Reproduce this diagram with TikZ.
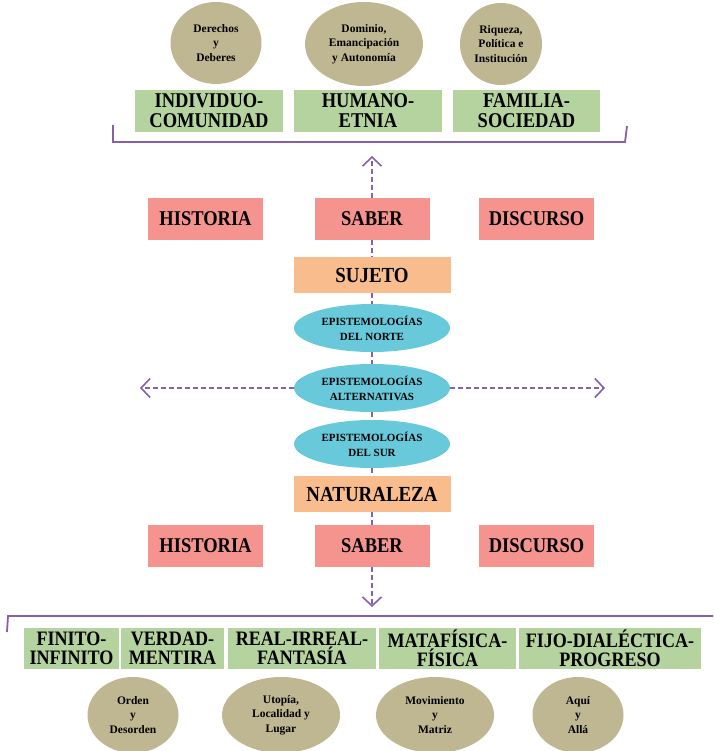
\documentclass[tikz,border=0pt]{standalone}
\usepackage{fontspec}
\setmainfont{Liberation Serif}
\newfontfamily\angosta[FakeStretch=0.88]{Liberation Serif}
\usetikzlibrary{shapes, arrows.meta, positioning}
\definecolor{verde}{RGB}{180,211,158}
\definecolor{rosa}{RGB}{245,148,143}
\definecolor{naranja}{RGB}{249,188,141}
\definecolor{celeste}{RGB}{104,201,219}
\definecolor{cafe}{RGB}{190,183,146}
\definecolor{morado}{RGB}{134,96,170}

\begin{document}
\begin{tikzpicture}[x=1pt, y=-1pt]
\useasboundingbox (0,0) rectangle (713,751);

% ovalos de arriba y de abajo
\begin{scope}[every node/.style={shape=ellipse, fill=cafe, inner sep=0pt,
    align=center, font=\bfseries\fontsize{11.5}{14.5}\selectfont}]
    \node[minimum width=91pt, minimum height=82pt] (a) at (216,43) {Derechos\\y\\Deberes};
    \node[minimum width=118pt, minimum height=84pt] (b) at (364,44) {Dominio,\\Emancipación\\y Autonomía};
    \node[minimum width=82pt, minimum height=82pt] (c) at (501,44) {Riqueza,\\Política e\\Institución};
    \node[minimum width=91pt, minimum height=76pt] (w) at (133,715) {Orden\\y\\Desorden};
    \node[minimum width=118pt, minimum height=76pt] (x) at (281,715) {Utopía,\\Localidad y\\Lugar};
    \node[minimum width=118pt, minimum height=76pt] (y) at (435,715) {Movimiento\\y\\Matriz};
    \node[minimum width=91pt, minimum height=76pt] (z) at (578,715) {Aquí\\y\\Allá};
\end{scope}

% cajas verdes
\begin{scope}[every node/.style={shape=rectangle, fill=verde, inner sep=0pt,
    align=center, minimum height=42pt, font=\angosta\bfseries\fontsize{21}{20}\selectfont}]
    \node[minimum width=148pt] (d) at (209,111) {INDIVIDUO-\\COMUNIDAD};
    \node[minimum width=148pt] (e) at (368,111) {HUMANO-\\ETNIA};
    \node[minimum width=147pt] (f) at (526.5,111) {FAMILIA-\\SOCIEDAD};
\end{scope}
\begin{scope}[every node/.style={shape=rectangle, fill=verde, inner sep=0pt,
    align=center, minimum height=41pt, font=\angosta\bfseries\fontsize{20.5}{19}\selectfont}]
    \node[minimum width=95pt] (r) at (71.5,648.5) {FINITO-\\INFINITO};
    \node[minimum width=103pt] (s) at (172.5,648.5) {VERDAD-\\MENTIRA};
    \node[minimum width=148pt] (t) at (302,648.5) {REAL-IRREAL-\\FANTASÍA};
    \node[minimum width=137pt] (u) at (447.5,648.5) {MATAFÍSICA-\\FÍSICA};
    \node[minimum width=182pt] (v) at (610,648.5) {FIJO-DIALÉCTICA-\\PROGRESO};
\end{scope}

% historia, saber, discurso
\begin{scope}[every node/.style={shape=rectangle, fill=rosa, inner sep=0pt,
    minimum width=115pt, minimum height=42pt, font=\angosta\bfseries\fontsize{21}{20}\selectfont}]
    \node (g) at (205.5,219) {HISTORIA};
    \node (h) at (372,219) {SABER};
    \node (i) at (536.5,219) {DISCURSO};
    \node (o) at (205.5,546) {HISTORIA};
    \node (p) at (372,546) {SABER};
    \node (q) at (536.5,546) {DISCURSO};
\end{scope}

\begin{scope}[every node/.style={shape=rectangle, fill=naranja, inner sep=0pt,
    minimum width=157pt, minimum height=36pt, font=\angosta\bfseries\fontsize{21.5}{20}\selectfont}]
    \node (j) at (372,275) {SUJETO};
    \node (n) at (372,494) {NATURALEZA};
\end{scope}

\begin{scope}[every node/.style={shape=ellipse, fill=celeste, inner sep=0pt,
    align=center, minimum width=156pt, minimum height=48pt,
    font=\bfseries\fontsize{11}{15}\selectfont}]
    \node (k) at (372,328) {EPISTEMOLOGÍAS\\DEL NORTE};
    \node (l) at (372,388) {EPISTEMOLOGÍAS\\ALTERNATIVAS};
    \node (m) at (372,444) {EPISTEMOLOGÍAS\\DEL SUR};
\end{scope}

% llaves
\draw[morado, line width=1.8pt] (113,125) -- (113,142) -- (625,142) -- (627,126);
\draw[morado, line width=1.8pt] (7,632) -- (8,616) -- (713,616);

\coordinate (ta) at (372,156);
\coordinate (ba) at (372,607);
\coordinate (la) at (140,388);
\coordinate (ra) at (605,388);

\begin{scope}[every edge/.style={draw, morado, line width=1.6pt, dash pattern=on 5pt off 3pt},
    flecha/.style={-{Straight Barb[length=9pt, width=19pt, line width=1.6pt]}}]
    \path [-] (h.south) edge (j.north);
    \path [-] (j.south) edge (k.north);
    \path [-] (k.south) edge (l.north);
    \path [-] (l.south) edge (m.north);
    \path [-] (m.south) edge (n.north);
    \path [-] (n.south) edge (p.north);
    \path [flecha] (h.north) edge (ta);
    \path [flecha] (p.south) edge (ba);
    \path [flecha] (l.west) edge (la);
    \path [flecha] (l.east) edge (ra);
\end{scope}
\end{tikzpicture}
\end{document}
